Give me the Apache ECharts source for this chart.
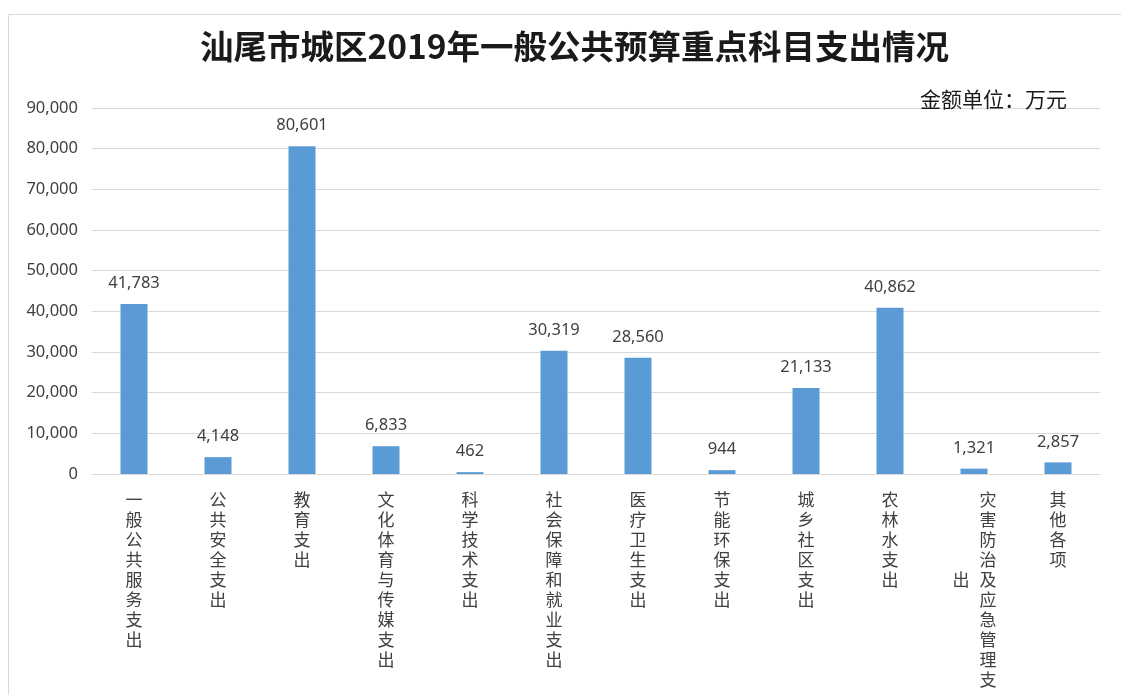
<!DOCTYPE html>
<html><head><meta charset="utf-8">
<script src="https://cdn.jsdelivr.net/npm/echarts@6/dist/echarts.min.js"></script>
<style>html,body{margin:0;padding:0;background:#fff}#c{width:1121px;height:695px}</style>
</head><body><div id="c"></div>
<script>
const titleText = '汕尾市城区2019年一般公共预算重点科目支出情况';
const unitText = '金额单位：万元';
const categories = ['一般公共服务支出','公共安全支出','教育支出','文化体育与传媒支出','科学技术支出','社会保障和就业支出','医疗卫生支出','节能环保支出','城乡社区支出','农林水支出','灾害防治及应急管理支出','其他各项'];
const values = [41783, 4148, 80601, 6833, 462, 30319, 28560, 944, 21133, 40862, 1321, 2857];
const yTicks = [0, 10000, 20000, 30000, 40000, 50000, 60000, 70000, 80000, 90000];
const maxChars = 10;

const fmt = v => Number(v).toLocaleString('en-US');
const vert = s => s.split('').join('\n');

const chart = echarts.init(document.getElementById('c'));
const labelFont = {fontFamily:'Noto Sans CJK SC', fontSize:17, lineHeight:20, color:'#404040'};
chart.setOption({
  animation:false,
  backgroundColor:'#fff',
  graphic:[{type:'rect', shape:{x:8.5, y:14.5, width:1130, height:700}, style:{fill:'none', stroke:'#d9d9d9', lineWidth:1}}],
  title:[
    {text:titleText, left:195, top:25, textStyle:{fontFamily:'Noto Sans CJK SC', fontSize:33.5, fontWeight:'bold', color:'#1a1a1a'}},
    {text:unitText, right:49, top:84, textStyle:{fontFamily:'Noto Sans CJK SC', fontSize:21, fontWeight:'normal', color:'#1a1a1a'}}
  ],
  grid:{left:92, right:21, top:108, bottom:221, containLabel:false},
  xAxis:[{
    type:'category', data:categories,
    axisLine:{show:true, lineStyle:{color:'#d9d9d9'}},
    axisTick:{show:false},
    axisLabel:{interval:0, margin:16, verticalAlign:'top',
      formatter:(v)=>{
        if (v.length > maxChars) return '{s|' + vert(v.slice(0, maxChars)) + '}';
        return vert(v);
      },
      rich:{s:Object.assign({padding:[0,0,0,28]}, labelFont)},
      ...labelFont}
  },{
    type:'category', data:categories, position:'bottom',
    axisLine:{show:false}, axisTick:{show:false}, splitLine:{show:false},
    axisLabel:{interval:0, margin:106, verticalAlign:'middle',
      formatter:(v)=> v.length > maxChars ? '{s|' + vert(v.slice(maxChars)) + '}' : '',
      rich:{s:Object.assign({padding:[0,26,0,0]}, labelFont)},
      ...labelFont}
  }],
  yAxis:{
    type:'value', min:yTicks[0], max:yTicks[yTicks.length-1], interval:10000,
    axisLine:{show:false}, axisTick:{show:false},
    splitLine:{lineStyle:{color:'#d9d9d9'}},
    axisLabel:{margin:14, formatter:fmt, fontFamily:'Noto Sans', fontSize:16.5, color:'#404040'}
  },
  series:[{
    type:'bar', data:values, barWidth:27,
    itemStyle:{color:'#5b9bd5'},
    label:{show:true, position:'top', distance:12, formatter:p=>fmt(p.value), fontFamily:'Noto Sans', fontSize:16.5, color:'#404040'}
  }]
});
</script></body></html>
